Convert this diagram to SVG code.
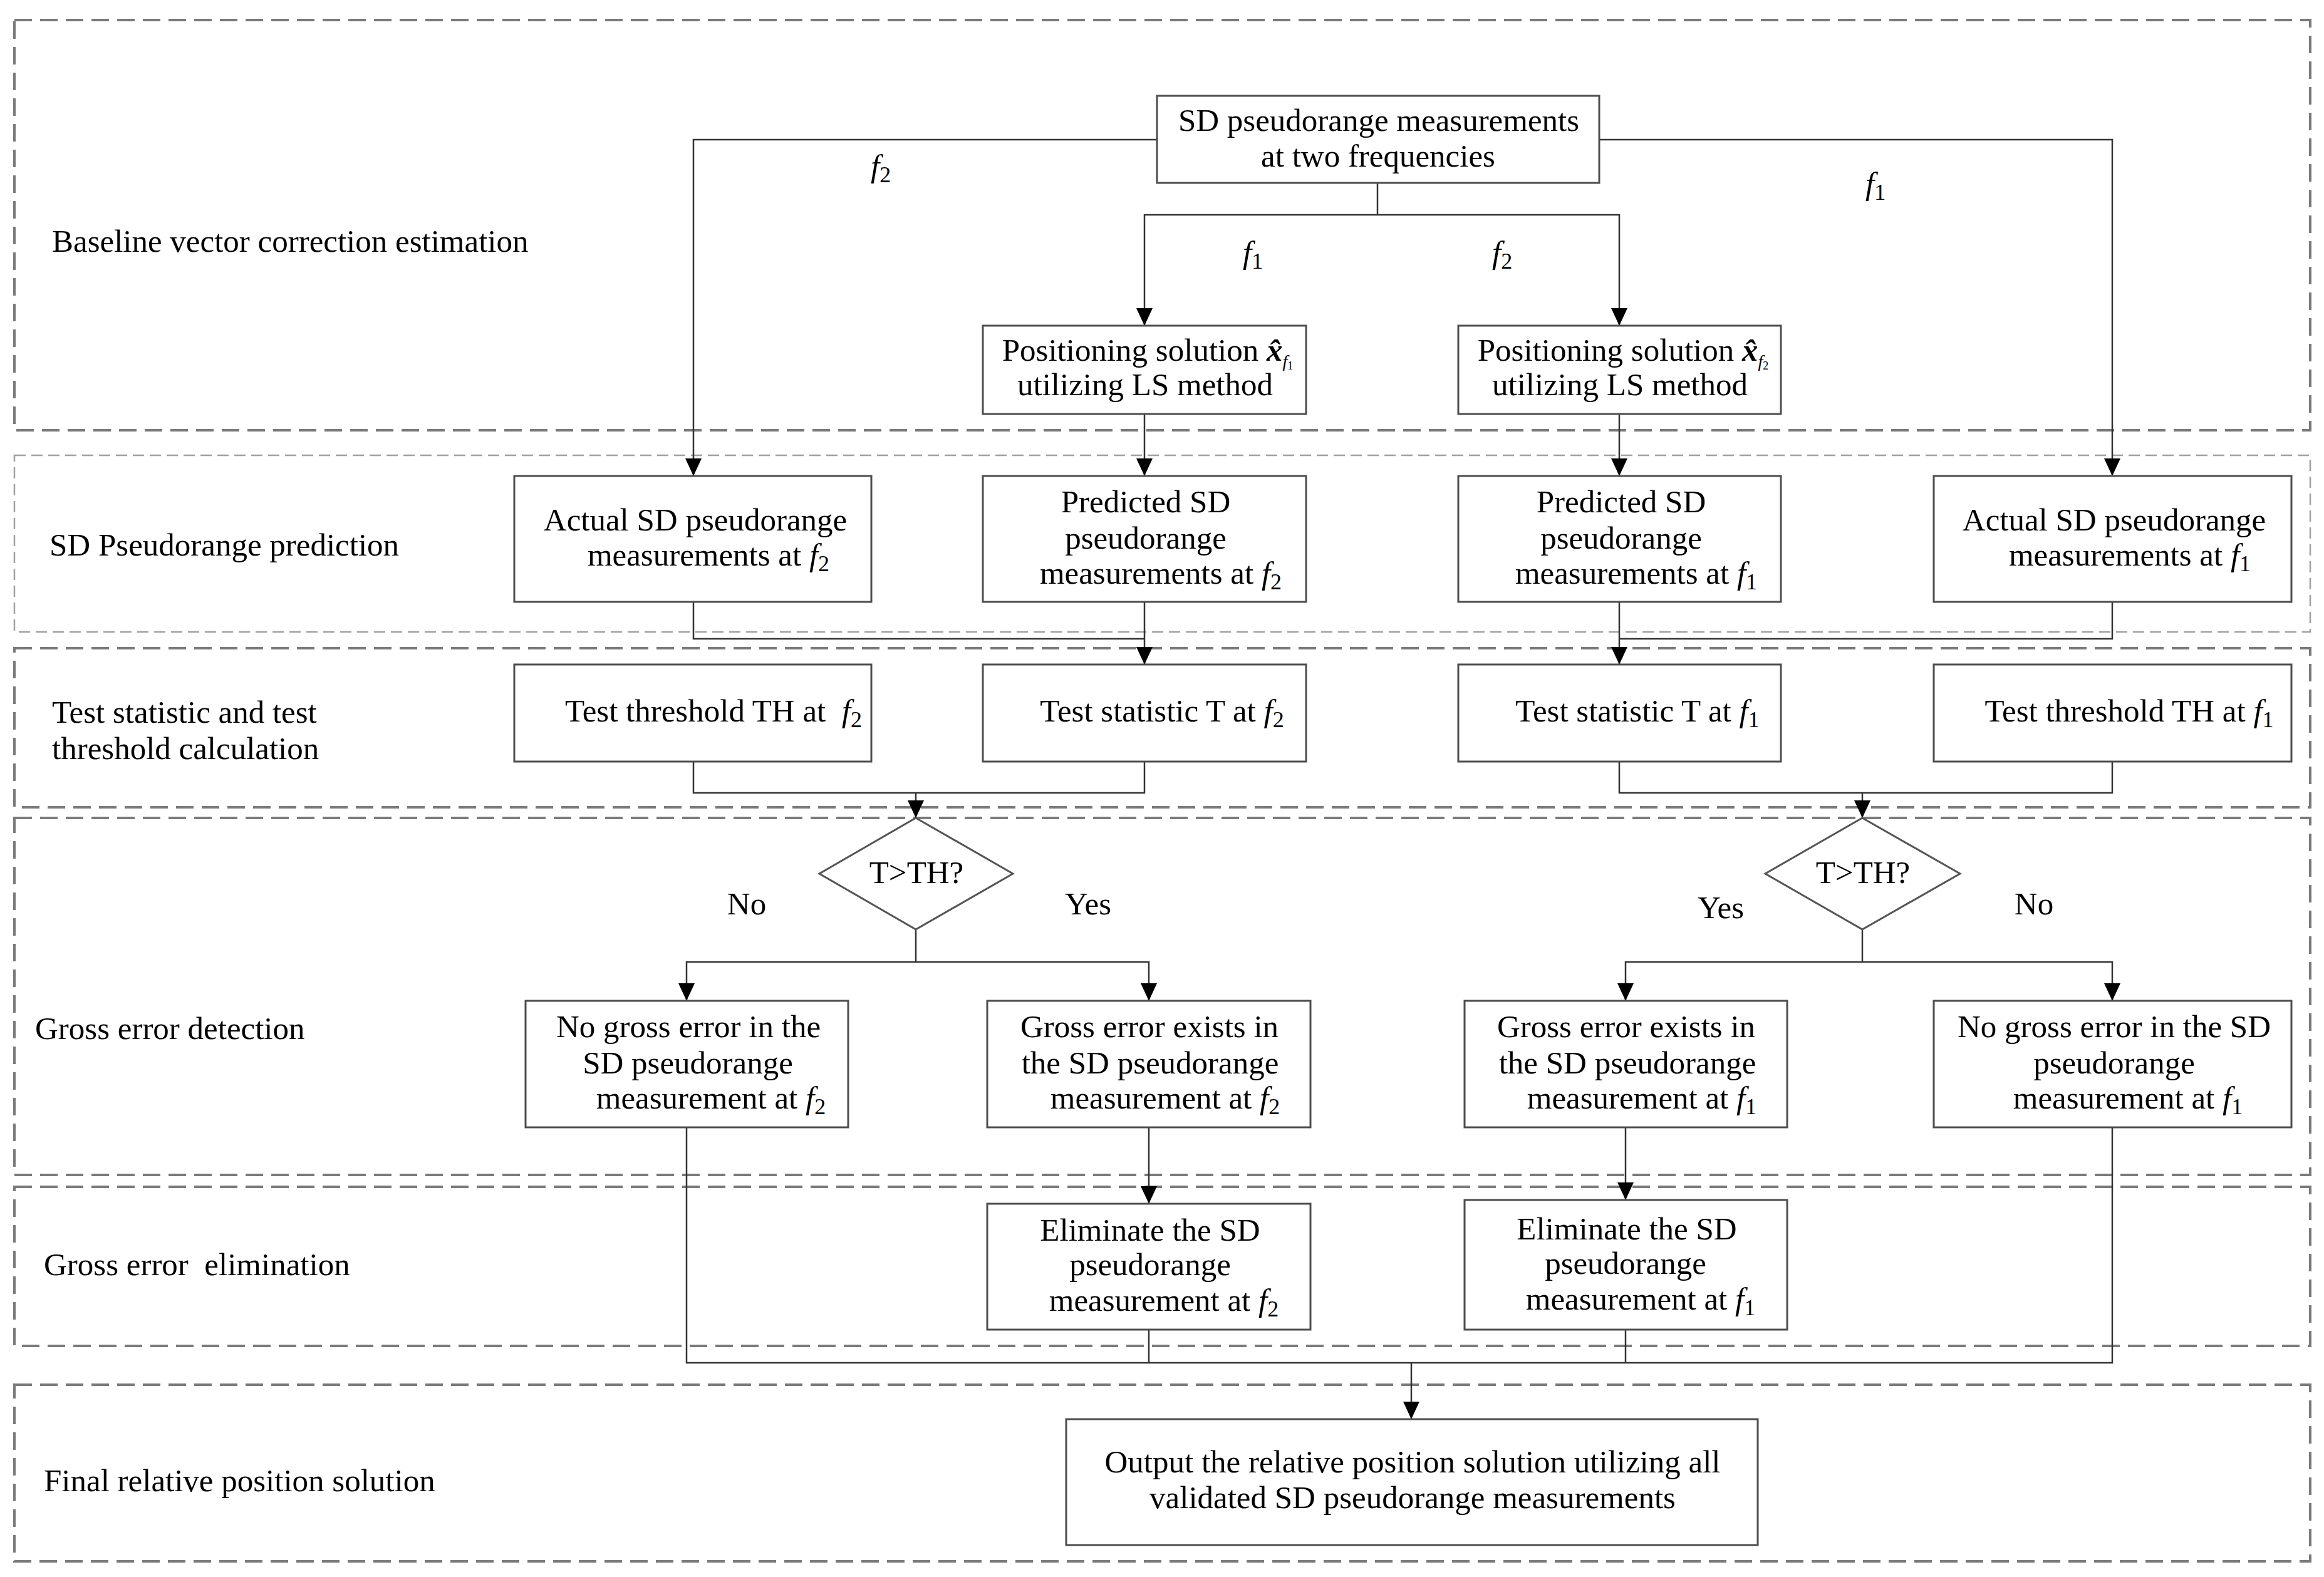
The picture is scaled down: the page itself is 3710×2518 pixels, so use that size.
<svg xmlns="http://www.w3.org/2000/svg" width="3710" height="2518" viewBox="0 0 3710 2518">
<style>
  .sec{fill:none;stroke:#7a7a7a;stroke-width:4;stroke-dasharray:28 13}
  .sec2{fill:none;stroke:#a0a0a0;stroke-width:2.5;stroke-dasharray:18 9}
  .box{fill:#fff;stroke:#4d4d4d;stroke-width:3}
  .con{fill:none;stroke:#333;stroke-width:2.5}
  .arr{marker-end:url(#ah)}
  text{font-family:"Liberation Serif","Times New Roman",serif;font-size:51px;fill:#000}
  .m{text-anchor:middle}
  .i{font-style:italic}
</style>
<defs>
  <marker id="ah" markerUnits="userSpaceOnUse" markerWidth="28" markerHeight="26" refX="28" refY="13" orient="auto">
    <path d="M0,0 L28,13 L0,26 z" fill="#000"/>
  </marker>
</defs>
<rect width="3710" height="2518" fill="#fff"/>

<g id="sections">
  <rect class="sec" x="23" y="32" width="3665" height="655"/>
  <rect class="sec2" x="23" y="727" width="3665" height="282"/>
  <rect class="sec" x="23" y="1035" width="3665" height="254"/>
  <rect class="sec" x="23" y="1306" width="3665" height="570"/>
  <rect class="sec" x="23" y="1895" width="3665" height="254"/>
  <rect class="sec" x="23" y="2211" width="3665" height="282"/>
  <text x="83" y="402">Baseline vector correction estimation</text>
  <text x="79" y="887">SD Pseudorange prediction</text>
  <text x="83" y="1154">Test statistic and test</text>
  <text x="83" y="1212">threshold calculation</text>
  <text x="56" y="1659">Gross error detection</text>
  <text x="70" y="2036" style="white-space:pre">Gross error  elimination</text>
  <text x="70" y="2381">Final relative position solution</text>
</g>

<g id="connectors">
  <path class="con arr" d="M1847,223 H1107 V760"/>
  <path class="con arr" d="M2553,223 H3372 V760"/>
  <path class="con" d="M2199,292 V343"/>
  <path class="con arr" d="M2199,343 H1827 V520"/>
  <path class="con arr" d="M2199,343 H2585 V520"/>
  <path class="con arr" d="M1827,661 V760"/>
  <path class="con arr" d="M2585,661 V760"/>
  <path class="con" d="M1107,961 V1020 H1827"/>
  <path class="con arr" d="M1827,961 V1061"/>
  <path class="con" d="M3372,961 V1020 H2585"/>
  <path class="con arr" d="M2585,961 V1061"/>
  <path class="con" d="M1107,1216 V1266 H1827 V1216"/>
  <path class="con arr" d="M1462,1266 V1306"/>
  <path class="con" d="M2585,1216 V1266 H3372 V1216"/>
  <path class="con arr" d="M2973,1266 V1306"/>
  <path class="con" d="M1462,1484 V1536"/>
  <path class="con arr" d="M1462,1536 H1096 V1598"/>
  <path class="con arr" d="M1462,1536 H1834 V1598"/>
  <path class="con" d="M2973,1484 V1536"/>
  <path class="con arr" d="M2973,1536 H2595 V1598"/>
  <path class="con arr" d="M2973,1536 H3372 V1598"/>
  <path class="con arr" d="M1834,1800 V1922"/>
  <path class="con arr" d="M2595,1800 V1916"/>
  <path class="con" d="M1096,1800 V2176 H3372 V1800"/>
  <path class="con" d="M1834,2123 V2176"/>
  <path class="con" d="M2595,2123 V2176"/>
  <path class="con arr" d="M2253,2176 V2266"/>
  <text x="1390" y="282"><tspan class="i">f</tspan><tspan font-size="36" dy="9">2</tspan></text>
  <text x="2978" y="310"><tspan class="i">f</tspan><tspan font-size="36" dy="9">1</tspan></text>
  <text x="1984" y="420"><tspan class="i">f</tspan><tspan font-size="36" dy="9">1</tspan></text>
  <text x="2382" y="420"><tspan class="i">f</tspan><tspan font-size="36" dy="9">2</tspan></text>
  <text class="m" x="1192" y="1460">No</text>
  <text class="m" x="1737" y="1460">Yes</text>
  <text class="m" x="2747" y="1466">Yes</text>
  <text class="m" x="3247" y="1460">No</text>
</g>

<g id="n_top">
  <rect class="box" x="1847" y="153" width="706" height="139"/>
  <text class="m" x="2201" y="209">SD pseudorange measurements</text>
  <text class="m" x="2200" y="266">at two frequencies</text>
</g>

<g id="n_pos1">
  <rect class="box" x="1569" y="520" width="516" height="141"/>
  <text class="m" x="1832" y="576">Positioning solution <tspan font-weight="bold" class="i">x̂</tspan><tspan class="i" font-size="28" dy="10">f</tspan><tspan font-size="18" dy="4">1</tspan></text>
  <text class="m" x="1828" y="631">utilizing LS method</text>
</g>

<g id="n_pos2">
  <rect class="box" x="2328" y="520" width="515" height="141"/>
  <text class="m" x="2591" y="576">Positioning solution <tspan font-weight="bold" class="i">x̂</tspan><tspan class="i" font-size="28" dy="10">f</tspan><tspan font-size="18" dy="4">2</tspan></text>
  <text class="m" x="2586" y="631">utilizing LS method</text>
</g>

<g id="n_act2">
  <rect class="box" x="821" y="760" width="570" height="201"/>
  <text class="m" x="1110" y="847">Actual SD pseudorange</text>
  <text class="m" x="1131" y="903">measurements at <tspan class="i">f</tspan><tspan font-size="36" dy="9">2</tspan></text>
</g>

<g id="n_pred2">
  <rect class="box" x="1569" y="760" width="516" height="201"/>
  <text class="m" x="1829" y="818">Predicted SD</text>
  <text class="m" x="1829" y="876">pseudorange</text>
  <text class="m" x="1853" y="932">measurements at <tspan class="i">f</tspan><tspan font-size="36" dy="9">2</tspan></text>
</g>

<g id="n_pred1">
  <rect class="box" x="2328" y="760" width="515" height="201"/>
  <text class="m" x="2588" y="818">Predicted SD</text>
  <text class="m" x="2588" y="876">pseudorange</text>
  <text class="m" x="2612" y="932">measurements at <tspan class="i">f</tspan><tspan font-size="36" dy="9">1</tspan></text>
</g>

<g id="n_act1">
  <rect class="box" x="3087" y="760" width="571" height="201"/>
  <text class="m" x="3375" y="847">Actual SD pseudorange</text>
  <text class="m" x="3400" y="903">measurements at <tspan class="i">f</tspan><tspan font-size="36" dy="9">1</tspan></text>
</g>

<g id="n_th2">
  <rect class="box" x="821" y="1061" width="570" height="155"/>
  <text class="m" x="1139" y="1152" style="white-space:pre">Test threshold TH at  <tspan class="i">f</tspan><tspan font-size="36" dy="9">2</tspan></text>
</g>

<g id="n_t2">
  <rect class="box" x="1569" y="1061" width="516" height="155"/>
  <text class="m" x="1855" y="1152">Test statistic T at <tspan class="i">f</tspan><tspan font-size="36" dy="9">2</tspan></text>
</g>

<g id="n_t1">
  <rect class="box" x="2328" y="1061" width="515" height="155"/>
  <text class="m" x="2614" y="1152">Test statistic T at <tspan class="i">f</tspan><tspan font-size="36" dy="9">1</tspan></text>
</g>

<g id="n_th1">
  <rect class="box" x="3087" y="1061" width="571" height="155"/>
  <text class="m" x="3399" y="1152">Test threshold TH at <tspan class="i">f</tspan><tspan font-size="36" dy="9">1</tspan></text>
</g>

<g id="n_dec2">
  <polygon points="1462,1306 1617,1395 1462,1484 1308,1395" fill="#fff" stroke="#555" stroke-width="3"/>
  <text class="m" x="1463" y="1410" font-size="48">T&gt;TH?</text>
</g>

<g id="n_dec1">
  <polygon points="2973,1306 3129,1395 2973,1484 2818,1395" fill="#fff" stroke="#555" stroke-width="3"/>
  <text class="m" x="2974" y="1410" font-size="48">T&gt;TH?</text>
</g>

<g id="n_no2">
  <rect class="box" x="839" y="1598" width="515" height="202"/>
  <text class="m" x="1099" y="1656">No gross error in the</text>
  <text class="m" x="1098" y="1714">SD pseudorange</text>
  <text class="m" x="1135" y="1770">measurement at <tspan class="i">f</tspan><tspan font-size="36" dy="9">2</tspan></text>
</g>

<g id="n_ge2">
  <rect class="box" x="1576" y="1598" width="516" height="202"/>
  <text class="m" x="1835" y="1656">Gross error exists in</text>
  <text class="m" x="1836" y="1714">the SD pseudorange</text>
  <text class="m" x="1860" y="1770">measurement at <tspan class="i">f</tspan><tspan font-size="36" dy="9">2</tspan></text>
</g>

<g id="n_ge1">
  <rect class="box" x="2338" y="1598" width="515" height="202"/>
  <text class="m" x="2596" y="1656">Gross error exists in</text>
  <text class="m" x="2598" y="1714">the SD pseudorange</text>
  <text class="m" x="2621" y="1770">measurement at <tspan class="i">f</tspan><tspan font-size="36" dy="9">1</tspan></text>
</g>

<g id="n_no1">
  <rect class="box" x="3087" y="1598" width="571" height="202"/>
  <text class="m" x="3375" y="1656">No gross error in the SD</text>
  <text class="m" x="3375" y="1714">pseudorange</text>
  <text class="m" x="3397" y="1770">measurement at <tspan class="i">f</tspan><tspan font-size="36" dy="9">1</tspan></text>
</g>

<g id="n_el2">
  <rect class="box" x="1576" y="1922" width="516" height="201"/>
  <text class="m" x="1836" y="1981">Eliminate the SD</text>
  <text class="m" x="1836" y="2036">pseudorange</text>
  <text class="m" x="1858" y="2093">measurement at <tspan class="i">f</tspan><tspan font-size="36" dy="9">2</tspan></text>
</g>

<g id="n_el1">
  <rect class="box" x="2338" y="1916" width="515" height="207"/>
  <text class="m" x="2597" y="1979">Eliminate the SD</text>
  <text class="m" x="2595" y="2034">pseudorange</text>
  <text class="m" x="2619" y="2091">measurement at <tspan class="i">f</tspan><tspan font-size="36" dy="9">1</tspan></text>
</g>

<g id="n_final">
  <rect class="box" x="1702" y="2266" width="1104" height="201"/>
  <text class="m" x="2255" y="2351">Output the relative position solution utilizing all</text>
  <text class="m" x="2255" y="2408">validated SD pseudorange measurements</text>
</g>
</svg>
